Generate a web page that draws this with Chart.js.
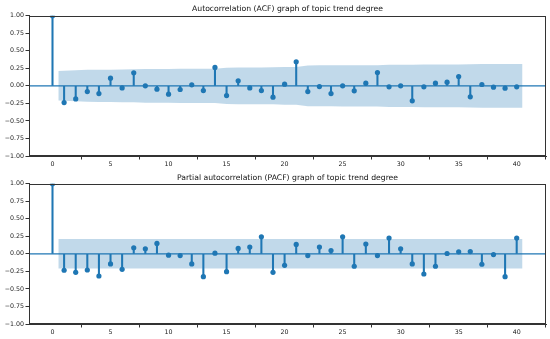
<!DOCTYPE html>
<html>
<head>
<meta charset="utf-8">
<script src="https://cdn.jsdelivr.net/npm/chart.js@4.4.0/dist/chart.umd.min.js"></script>
<style>
html,body{margin:0;padding:0;background:#fff;}
#c1{position:absolute;left:0;top:0;}
#c2{position:absolute;left:0;top:170px;}
</style>
</head>
<body>
<canvas id="c1" width="550" height="170"></canvas>
<canvas id="c2" width="550" height="169"></canvas>
<script>
// ---- data ----
const lags = [0,1,2,3,4,5,6,7,8,9,10,11,12,13,14,15,16,17,18,19,20,21,22,23,24,25,26,27,28,29,30,31,32,33,34,35,36,37,38,39,40];
const acfValues = [1.0,-0.238,-0.186,-0.081,-0.110,0.110,-0.029,0.186,0.000,-0.048,-0.119,-0.052,0.014,-0.067,0.262,-0.138,0.071,-0.029,-0.067,-0.162,0.024,0.343,-0.081,-0.010,-0.110,0.000,-0.071,0.038,0.190,-0.014,0.000,-0.214,-0.014,0.038,0.052,0.133,-0.157,0.019,-0.019,-0.033,-0.014];
const acfBand = [0.210,0.221,0.228,0.229,0.231,0.234,0.235,0.241,0.241,0.241,0.243,0.243,0.243,0.244,0.258,0.262,0.263,0.263,0.264,0.269,0.269,0.291,0.292,0.292,0.293,0.293,0.294,0.294,0.300,0.300,0.300,0.305,0.305,0.305,0.305,0.307,0.312,0.312,0.312,0.312]; // lags 1..40
const pacfValues = [1.0,-0.234,-0.263,-0.230,-0.316,-0.144,-0.220,0.086,0.072,0.148,-0.019,-0.024,-0.144,-0.325,0.010,-0.254,0.077,0.096,0.244,-0.263,-0.163,0.134,-0.024,0.096,0.048,0.244,-0.177,0.139,-0.024,0.225,0.072,-0.144,-0.287,-0.177,0.005,0.029,0.033,-0.148,-0.010,-0.325,0.225];
const pacfBand = [0.210,0.210,0.210,0.210,0.210,0.210,0.210,0.210,0.210,0.210,0.210,0.210,0.210,0.210,0.210,0.210,0.210,0.210,0.210,0.210,0.210,0.210,0.210,0.210,0.210,0.210,0.210,0.210,0.210,0.210,0.210,0.210,0.210,0.210,0.210,0.210,0.210,0.210,0.210,0.210]; // lags 1..40
const yTicks = [-1,-0.75,-0.5,-0.25,0,0.25,0.5,0.75,1];
const xTicks = [0,5,10,15,20,25,30,35,40];
const titles = ["Autocorrelation (ACF) graph of topic trend degree","Partial autocorrelation (PACF) graph of topic trend degree"];

const BLUE = '#1f77b4';
const FONT = 'DejaVu Sans';

const framePlugin = {
  id:'frame',
  beforeDatasetsDraw(chart){
    const {ctx, chartArea:a, scales:{y}} = chart;
    const y0 = y.getPixelForValue(0);
    ctx.save();
    ctx.strokeStyle = BLUE; ctx.lineWidth = 1.2;
    ctx.beginPath(); ctx.moveTo(a.left, y0); ctx.lineTo(a.right, y0); ctx.stroke();
    ctx.restore();
  },
  afterDraw(chart){
    const {ctx, chartArea:a} = chart;
    ctx.save();
    ctx.strokeStyle = '#333'; ctx.lineWidth = 1;
    ctx.strokeRect(Math.round(a.left)+0.5, Math.round(a.top)+0.5, Math.round(a.right-a.left)-1, Math.round(a.bottom-a.top)-1);
    ctx.restore();
  }
};

function makeChart(id, values, band, title, titlePad, xHeight){
  const bandLags = lags.slice(1).map((l,i,arr)=> i===0 ? l-0.5 : (i===arr.length-1 ? l+0.5 : l));
  const upper = band.map((b,i)=>({x:bandLags[i], y:b}));
  const lower = band.map((b,i)=>({x:bandLags[i], y:-b}));
  const pts = values.map((v,i)=>({x:lags[i], y:v}));
  return new Chart(document.getElementById(id), {
    type:'scatter',
    data:{datasets:[
      {type:'line', data:upper, borderWidth:0, pointRadius:0, fill:'+1', backgroundColor:'rgba(31,119,180,0.28)', tension:0, order:5},
      {type:'line', data:lower, borderWidth:0, pointRadius:0, fill:false, tension:0, order:6},
      {type:'bar', data:pts, backgroundColor:BLUE, barThickness:1.4, order:2},
      {type:'scatter', data:pts, backgroundColor:BLUE, borderColor:BLUE, pointRadius:2.6, pointBorderWidth:0, order:1}
    ]},
    options:{
      responsive:false, animation:false, devicePixelRatio:1,
      layout:{padding:{left:0,right:4,top:0,bottom:0}},
      plugins:{
        legend:{display:false}, tooltip:{enabled:false},
        title:{display:true, fullSize:false, text:title, color:'#111', font:{family:FONT, size:7.7, weight:'normal', lineHeight:1}, padding:titlePad}
      },
      scales:{
        x:{type:'linear', min:-2.025, max:42.525, offset:false,
          afterBuildTicks(s){ s.ticks = xTicks.map(v=>({value:v})); },
          afterFit(s){ s.height = xHeight; },
          grid:{display:true, drawOnChartArea:false, drawTicks:true, tickLength:3.5, color:'#333'},
          border:{display:true, color:'#333'},
          ticks:{font:{family:FONT,size:6.3}, color:'#222', padding:1.5, maxRotation:0, autoSkip:false, callback:v=>String(v)}
        },
        y:{type:'linear', min:-1, max:1,
          afterBuildTicks(s){ s.ticks = yTicks.map(v=>({value:v})); },
          afterFit(s){ s.width = 29; },
          grid:{display:true, drawOnChartArea:false, drawTicks:true, tickLength:3.5, color:'#333'},
          border:{display:true, color:'#333'},
          ticks:{font:{family:FONT,size:6.3}, color:'#222', padding:1.5, autoSkip:false,
            callback:v=>(v<0?'\u2212':'')+Math.abs(v).toFixed(2)}
        }
      }
    },
    plugins:[framePlugin]
  });
}

makeChart('c1', acfValues, acfBand, titles[0], {top:5,bottom:3}, 14);
makeChart('c2', pacfValues, pacfBand, titles[1], {top:4,bottom:2}, 15);
</script>
</body>
</html>
